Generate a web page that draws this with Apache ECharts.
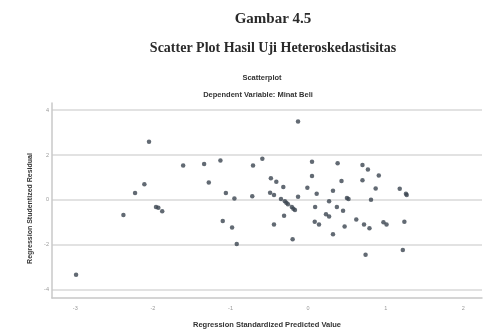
<!DOCTYPE html>
<html>
<head>
<meta charset="utf-8">
<script src="https://cdn.jsdelivr.net/npm/echarts@6/dist/echarts.min.js"></script>
<style>
  html, body { margin: 0; padding: 0; background: #fff; }
  #chart { width: 485px; height: 334px; }
</style>
</head>
<body>
<div id="chart"></div>
<script>
// x = standardized predicted value, y = studentized residual
var predicted = [
  -2.99, -2.38, -2.23, -2.11, -2.05, -1.96, -1.93, -1.88, -1.61, -1.34,
  -1.28, -1.13, -1.10, -1.06, -0.98, -0.95, -0.92, -0.72, -0.71, -0.59,
  -0.49, -0.48, -0.44, -0.44, -0.41, -0.35, -0.32, -0.31, -0.30, -0.28,
  -0.26, -0.21, -0.20, -0.19, -0.17, -0.13, -0.13, -0.01, 0.05, 0.05,
  0.09, 0.085, 0.11, 0.14, 0.23, 0.27, 0.27, 0.32, 0.32, 0.37,
  0.38, 0.43, 0.45, 0.47, 0.50, 0.52, 0.62, 0.70, 0.70, 0.72,
  0.74, 0.77, 0.79, 0.81, 0.87, 0.91, 0.97, 1.01, 1.18, 1.22,
  1.24, 1.26, 1.27
];
var residual = [
  -3.34, -0.67, 0.31, 0.70, 2.59, -0.32, -0.35, -0.51, 1.53, 1.60,
  0.77, 1.76, -0.94, 0.31, -1.23, 0.06, -1.97, 0.16, 1.53, 1.83,
  0.32, 0.96, 0.22, -1.10, 0.81, 0.04, 0.58, -0.71, -0.06, -0.13,
  -0.19, -0.32, -1.75, -0.39, -0.45, 3.50, 0.14, 0.54, 1.70, 1.06,
  -0.32, -0.97, 0.27, -1.10, -0.64, -0.06, -0.74, 0.41, -1.53, -0.32,
  1.63, 0.84, -0.48, -1.19, 0.08, 0.04, -0.87, 1.56, 0.88, -1.10,
  -2.45, 1.36, -1.27, 0.01, 0.51, 1.09, -1.00, -1.10, 0.50, -2.23,
  -0.97, 0.27, 0.22
];
var xTicks = [-3, -2, -1, 0, 1, 2];
var yTicks = [-4, -2, 0, 2, 4];

var points = [];
predicted.forEach(function (x, i) {
  points.push([x, residual[i]]);
});

var myChart = echarts.init(document.getElementById('chart'));
var option = {
  backgroundColor: '#fff',
  animation: false,
  title: [
    {
      text: 'Gambar 4.5',
      left: 268, top: 7, textAlign: 'center',
      textStyle: { fontFamily: 'Liberation Serif', fontSize: 15, fontWeight: 'bold', color: '#2a2a2a' }
    },
    {
      text: 'Scatter Plot Hasil Uji Heteroskedastisitas',
      left: 268, top: 36, textAlign: 'center',
      textStyle: { fontFamily: 'Liberation Serif', fontSize: 14, fontWeight: 'bold', color: '#2a2a2a' }
    },
    {
      text: 'Scatterplot',
      left: 257, top: 69, textAlign: 'center',
      textStyle: { fontFamily: 'Liberation Sans', fontSize: 7.5, fontWeight: 'bold', color: '#333' }
    },
    {
      text: 'Dependent Variable: Minat Beli',
      left: 253, top: 86, textAlign: 'center',
      textStyle: { fontFamily: 'Liberation Sans', fontSize: 7.5, fontWeight: 'bold', color: '#333' }
    }
  ],
  grid: { left: 52, right: 3, top: 103, bottom: 29 },
  xAxis: {
    type: 'value',
    min: -3.30,
    max: 2.24,
    name: 'Regression Standardized Predicted Value',
    nameLocation: 'middle',
    nameGap: 23,
    nameTextStyle: { fontFamily: 'Liberation Sans', fontSize: 7.5, fontWeight: 'bold', color: '#333' },
    axisLine: { show: true, onZero: false, lineStyle: { color: '#c8c8c8', width: 1.5 } },
    axisTick: { show: false, customValues: xTicks },
    axisLabel: { customValues: xTicks, fontSize: 5.5, color: '#999', margin: 7 },
    splitLine: { show: false }
  },
  yAxis: {
    type: 'value',
    min: -4.375,
    max: 4.32,
    name: 'Regression Studentized Residual',
    nameLocation: 'middle',
    nameGap: 15,
    nameTextStyle: { fontFamily: 'Liberation Sans', fontSize: 7, fontWeight: 'bold', color: '#333', padding: [0, 16, 0, 0] },
    axisLine: { show: true, onZero: false, lineStyle: { color: '#c8c8c8', width: 1.5 } },
    axisTick: { show: false, customValues: yTicks },
    axisLabel: { customValues: yTicks, fontSize: 5.5, color: '#999', margin: 3 },
    splitLine: { show: true, lineStyle: { color: '#e2e2e2', width: 2 } }
  },
  series: [
    {
      type: 'scatter',
      data: points,
      symbolSize: 4.5,
      itemStyle: { color: '#3b4550' }
    }
  ]
};
myChart.setOption(option);
</script>
</body>
</html>
